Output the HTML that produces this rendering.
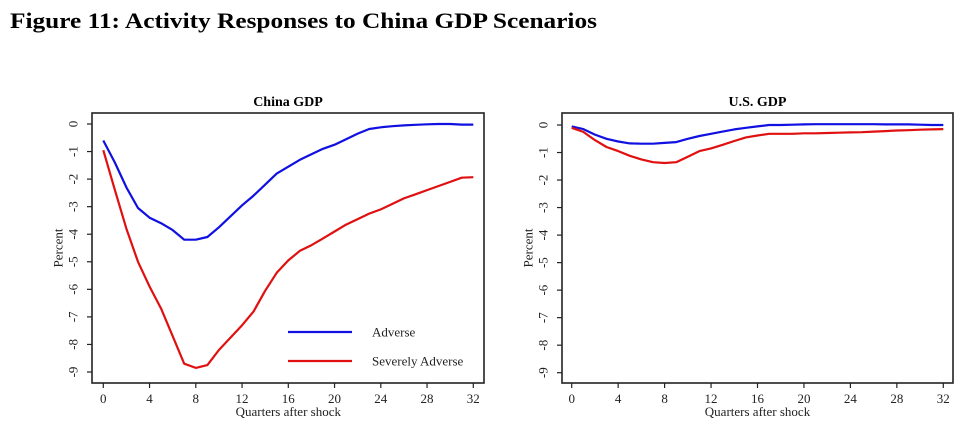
<!DOCTYPE html>
<html><head><meta charset="utf-8">
<style>
html,body{margin:0;padding:0;background:#fff;}
svg{display:block;font-family:"Liberation Serif",serif;}
</style></head>
<body>
<svg id="fig" width="975" height="445" viewBox="0 0 975 445">
<text x="10" y="28" font-size="22" font-weight="bold" textLength="587" lengthAdjust="spacingAndGlyphs">Figure 11: Activity Responses to China GDP Scenarios</text>
</svg>
<script>
const quarters = [0,1,2,3,4,5,6,7,8,9,10,11,12,13,14,15,16,17,18,19,20,21,22,23,24,25,26,27,28,29,30,31,32];
const xTicks = [0,4,8,12,16,20,24,28,32];
const yTicks = [0,-1,-2,-3,-4,-5,-6,-7,-8,-9];
const chinaAdverse = [-0.6,-1.4,-2.3,-3.05,-3.4,-3.6,-3.85,-4.2,-4.2,-4.1,-3.75,-3.35,-2.95,-2.6,-2.2,-1.8,-1.55,-1.3,-1.1,-0.9,-0.75,-0.55,-0.35,-0.18,-0.12,-0.08,-0.05,-0.03,-0.01,0,0,-0.02,-0.02];
const chinaSevere = [-0.95,-2.4,-3.8,-5.0,-5.9,-6.7,-7.7,-8.7,-8.85,-8.75,-8.2,-7.75,-7.3,-6.8,-6.05,-5.4,-4.95,-4.6,-4.4,-4.15,-3.9,-3.65,-3.45,-3.25,-3.1,-2.9,-2.7,-2.55,-2.4,-2.25,-2.1,-1.95,-1.93];
const usAdverse = [-0.05,-0.15,-0.35,-0.5,-0.6,-0.67,-0.68,-0.68,-0.65,-0.62,-0.5,-0.4,-0.32,-0.24,-0.16,-0.1,-0.05,0,0,0.01,0.02,0.03,0.03,0.03,0.03,0.03,0.03,0.02,0.02,0.02,0.01,0,0];
const usSevere = [-0.1,-0.25,-0.55,-0.8,-0.95,-1.12,-1.25,-1.35,-1.38,-1.35,-1.15,-0.95,-0.85,-0.72,-0.58,-0.45,-0.38,-0.32,-0.32,-0.32,-0.3,-0.3,-0.29,-0.28,-0.27,-0.26,-0.24,-0.22,-0.2,-0.19,-0.17,-0.16,-0.15];

const NS = "http://www.w3.org/2000/svg";
const svg = document.getElementById('fig');
function mk(tag, attrs, parent){
  const e = document.createElementNS(NS, tag);
  for (const k in attrs) e.setAttribute(k, attrs[k]);
  (parent||svg).appendChild(e);
  return e;
}
function panel(cfg){
  const g = mk('g', {});
  
  
  const xs = v => cfg.x0 + (v - 0) * (cfg.x32 - cfg.x0) / 32;
  const ys = v => cfg.y0 + (0 - v) * (cfg.y9 - cfg.y0) / 9;
  const box = mk('rect', {x:cfg.left, y:113, width:cfg.right-cfg.left, height:270, fill:'none', stroke:'#222', 'stroke-width':1.6}, g);
  
  
  const t = mk('text', {x:(cfg.left+cfg.right)/2, y:106, 'font-size':14, 'font-weight':'bold', 'text-anchor':'middle'}, g);
  t.textContent = cfg.title;
  
  
  xTicks.forEach(v => {
    mk('line', {x1:xs(v), x2:xs(v), y1:383, y2:388, stroke:'#222', 'stroke-width':1.2}, g);
    const l = mk('text', {x:xs(v), y:403, 'font-size':13, 'text-anchor':'middle', fill:'#222'}, g);
    l.textContent = v;
    
    
  });
  yTicks.forEach(v => {
    mk('line', {x1:cfg.left-5, x2:cfg.left, y1:ys(v), y2:ys(v), stroke:'#222', 'stroke-width':1.2}, g);
    const yy = ys(v), xx = cfg.left - 19;
    const l = mk('text', {x:xx, y:yy, 'font-size':13, 'text-anchor':'middle', 'dominant-baseline':'central', fill:'#222', transform:`rotate(-90 ${xx} ${yy})`}, g);
    l.textContent = v;
    
    
  });
  const xt = mk('text', {x:(cfg.x0+cfg.x32)/2, y:416, 'font-size':13, 'text-anchor':'middle', fill:'#222'}, g);
  xt.textContent = 'Quarters after shock';
  
  
  const yx = cfg.left - 34, yy = 248;
  const yt = mk('text', {x:yx, y:yy, 'font-size':13, 'text-anchor':'middle', 'dominant-baseline':'central', fill:'#222', transform:`rotate(-90 ${yx} ${yy})`}, g);
  yt.textContent = 'Percent';
  
  
  [[cfg.a,'#1010e0','adverse-line'],[cfg.s,'#e01010','severely-adverse-line']].forEach(([arr,col,nm]) => {
    const d = arr.map((v,i) => (i?'L':'M') + xs(quarters[i]).toFixed(1) + ' ' + ys(v).toFixed(1)).join(' ');
    const p = mk('path', {d:d, fill:'none', stroke:col, 'stroke-width':2.2, 'stroke-linejoin':'round'}, g);
    
    
  });
  return g;
}
panel({name:'china-gdp-chart', title:'China GDP', left:92, right:484, x0:103.3, x32:473.3, y0:124, y9:372, a:chinaAdverse, s:chinaSevere});
panel({name:'us-gdp-chart', title:'U.S. GDP', left:562, right:953, x0:571.7, x32:943.3, y0:125, y9:372.7, a:usAdverse, s:usSevere});

const leg = mk('g', {});


[['Adverse','#1010e0',332],['Severely Adverse','#e01010',361]].forEach(([lab,col,y]) => {
  const ln = mk('line', {x1:288, x2:352, y1:y, y2:y, stroke:col, 'stroke-width':2.2}, leg);
  
  
  const t = mk('text', {x:372, y:y+4.5, 'font-size':13, fill:'#222'}, leg);
  t.textContent = lab;
  
  
});
</script>
</body></html>
